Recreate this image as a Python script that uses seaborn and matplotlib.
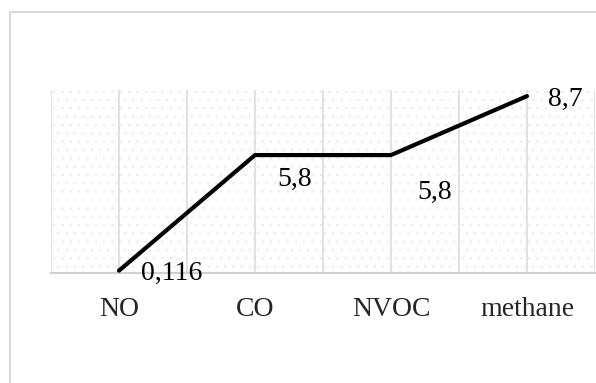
import numpy as np
import pandas as pd
import seaborn as sns
import matplotlib.pyplot as plt
from matplotlib.patches import Rectangle

gases = ['NO', 'CO', 'NVOC', 'methane']
values = [0.116, 5.8, 5.8, 8.7]
value_labels = ['0,116', '5,8', '5,8', '8,7']
# label offsets in pixels (dx, dy) relative to each point
label_offsets = [(53, -3), (40, -24), (44, -37), (38, -3)]

sns.set_style('white')
plt.rcParams['font.family'] = ['Liberation Serif', 'DejaVu Serif']
plt.rcParams['hatch.linewidth'] = 0.5

df = pd.DataFrame({'pos': np.arange(len(gases)), 'value': values})

fig = plt.figure(figsize=(5.96, 3.83), dpi=100)
ax = fig.add_axes([51 / 596, 110 / 383, 544 / 596, 183 / 383])

# outer chart border (extends past the image on right and bottom)
fig.patches.append(Rectangle((10 / 596, -0.1), 1.1, 0.1 + 1 - 12 / 383,
                             transform=fig.transFigure, fill=False,
                             edgecolor='#d9d9d9', lw=1.5))

# dotted pattern fill of plot area
ax.add_patch(Rectangle((0, 0), 1, 1, transform=ax.transAxes, fill=False,
                       hatch='..', edgecolor='#ebebeb', lw=0, zorder=0))

sns.lineplot(data=df, x='pos', y='value', color='black', lw=3, ax=ax,
             sort=False, zorder=3)
ax.lines[0].set_solid_capstyle('round')

for i, (v, lab) in enumerate(zip(values, value_labels)):
    dx, dy = label_offsets[i]
    ax.annotate(lab, (i, v), xytext=(dx, dy), textcoords='offset pixels',
                ha='center', va='center', fontsize=20, color='black')

ax.set_xlim(-0.5, len(gases) - 0.5)
ax.set_ylim(0, 9)
ax.set_xticks(range(len(gases)))
ax.set_xticklabels(gases, fontsize=20)
ax.set_xticks(np.arange(-0.5, len(gases), 1), minor=True)
ax.set_yticks([])
ax.tick_params(axis='x', which='both', length=0, pad=17)
ax.grid(axis='x', which='both', color='#dcdcdc', lw=1.2)
ax.set_xlabel('')
ax.set_ylabel('')

for s in ['top', 'right', 'left']:
    ax.spines[s].set_visible(False)
ax.spines['bottom'].set_color('#d0d0d0')
ax.spines['bottom'].set_linewidth(1.5)

fig.savefig('out.png', dpi=100)
